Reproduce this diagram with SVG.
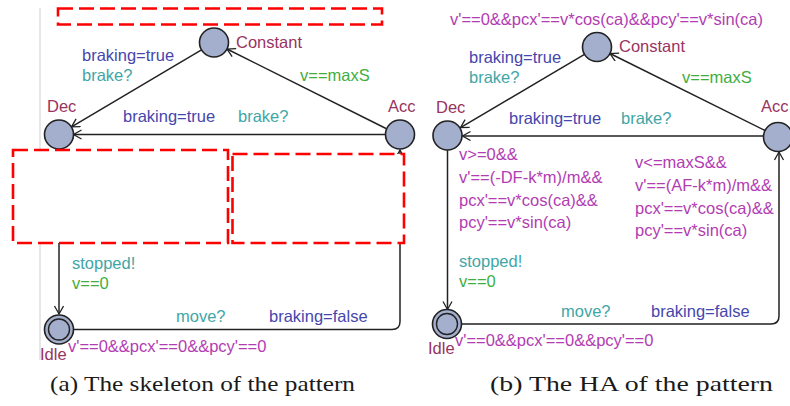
<svg xmlns="http://www.w3.org/2000/svg" width="790" height="406" viewBox="0 0 790 406">
<defs>
<marker id="arr" markerWidth="12" markerHeight="12" refX="9" refY="5" orient="auto" markerUnits="userSpaceOnUse">
<path d="M1,0.5 L9,5 L1,9.5" fill="none" stroke="#222" stroke-width="1.3"/>
</marker>
</defs>
<style>
text{font-family:"Liberation Sans",Arial,sans-serif;font-size:16.5px}
.loc{fill:#a4aecd;stroke:#222;stroke-width:1.6}
.in{fill:none;stroke:#222;stroke-width:1.4}
.nm{fill:#99335f}
.inv{fill:#b23cb2}
.gd{fill:#3fae3f}
.sy{fill:#3fa6a6}
.as{fill:#4646ad}
.e{fill:none;stroke:#222;stroke-width:1.5;marker-end:url(#arr)}
.mask{fill:#fff;stroke:#ff0000;stroke-width:2.6;stroke-dasharray:15 6}
.cap{font-family:"Liberation Serif","Times New Roman",serif;font-size:21px;fill:#1a1a1a}
</style>
<rect width="790" height="406" fill="#fff"/>
<line x1="40" y1="8" x2="40" y2="360" stroke="#cfcfcf" stroke-width="1"/>

<!-- Left panel: skeleton -->
<g id="edges-a">
<path class="e" d="M386,128.5 L227,49"/>
<path class="e" d="M201.5,49.9 L71.5,126.8"/>
<path class="e" d="M385.5,134.5 L73.5,134.5"/>
<path class="e" d="M59,149 L59,314"/>
<path class="e" d="M73.5,329.5 H392 Q400,329.5 400,321.5 V150"/>
</g>
<g id="a-constant"><circle class="loc" cx="214" cy="42.5" r="14.5"/><text class="nm" x="236" y="48">Constant</text></g>
<g id="a-dec"><circle class="loc" cx="59" cy="134.5" r="14.5"/><text class="nm" x="47" y="112">Dec</text></g>
<g id="a-acc"><circle class="loc" cx="400" cy="134.5" r="14.5"/><text class="nm" x="388" y="112">Acc</text></g>
<g id="a-idle"><circle class="loc" cx="59" cy="329.5" r="14.5"/><circle class="in" cx="59" cy="329.5" r="10.5"/><text class="nm" x="40" y="360">Idle</text><text class="inv" x="68" y="352">v'==0&amp;&amp;pcx'==0&amp;&amp;pcy'==0</text></g>
<g id="a-labels">
<text class="as" x="82" y="61">braking=true</text>
<text class="sy" x="82" y="81">brake?</text>
<text class="gd" x="300" y="81">v==maxS</text>
<text class="as" x="123" y="122">braking=true</text>
<text class="sy" x="238" y="122">brake?</text>
<text class="sy" x="72" y="269">stopped!</text>
<text class="gd" x="72" y="289">v==0</text>
<text class="sy" x="176" y="322">move?</text>
<text class="as" x="269" y="322">braking=false</text>
</g>
<g id="a-masks">
<rect class="mask" x="58" y="8.5" width="324" height="16"/>
<rect class="mask" x="13" y="150" width="215" height="93"/>
<rect class="mask" x="232.5" y="154" width="171.5" height="89"/>
</g>

<!-- Right panel: HA -->
<g id="edges-b">
<path class="e" d="M765,130.5 L610,53.5"/>
<path class="e" d="M584.5,54.4 L460.5,127.6"/>
<path class="e" d="M763.5,136 L462.5,136"/>
<path class="e" d="M447.5,150 L447.5,309.5"/>
<path class="e" d="M462,324 H771 Q779,324 779,316 V152"/>
</g>
<g id="b-constant"><circle class="loc" cx="597" cy="47" r="14.5"/><text class="nm" x="619" y="52">Constant</text><text class="inv" x="450" y="25">v'==0&amp;&amp;pcx'==v*cos(ca)&amp;&amp;pcy'==v*sin(ca)</text></g>
<g id="b-dec"><circle class="loc" cx="447.5" cy="135.5" r="14.5"/><text class="nm" x="436" y="113">Dec</text>
<text class="inv" x="459" y="160">v&gt;=0&amp;&amp;</text>
<text class="inv" x="459" y="183">v'==(-DF-k*m)/m&amp;&amp;</text>
<text class="inv" x="459" y="205.5">pcx'==v*cos(ca)&amp;&amp;</text>
<text class="inv" x="459" y="228">pcy'==v*sin(ca)</text>
</g>
<g id="b-acc"><circle class="loc" cx="778" cy="137" r="14.5"/><text class="nm" x="761" y="112">Acc</text>
<text class="inv" x="635" y="168">v&lt;=maxS&amp;&amp;</text>
<text class="inv" x="635" y="191">v'==(AF-k*m)/m&amp;&amp;</text>
<text class="inv" x="635" y="213.5">pcx'==v*cos(ca)&amp;&amp;</text>
<text class="inv" x="635" y="236">pcy'==v*sin(ca)</text>
</g>
<g id="b-idle"><circle class="loc" cx="447" cy="324" r="14.5"/><circle class="in" cx="447" cy="324" r="10.5"/><text class="nm" x="428" y="354">Idle</text><text class="inv" x="455" y="346">v'==0&amp;&amp;pcx'==0&amp;&amp;pcy'==0</text></g>
<g id="b-labels">
<text class="as" x="469" y="63">braking=true</text>
<text class="sy" x="469" y="83">brake?</text>
<text class="gd" x="682" y="83">v==maxS</text>
<text class="as" x="509" y="124">braking=true</text>
<text class="sy" x="621" y="124">brake?</text>
<text class="sy" x="459" y="267">stopped!</text>
<text class="gd" x="459" y="287">v==0</text>
<text class="sy" x="561" y="317">move?</text>
<text class="as" x="651" y="317">braking=false</text>
</g>

<g id="captions">
<text class="cap" x="50" y="391" textLength="305" lengthAdjust="spacingAndGlyphs">(a) The skeleton of the pattern</text>
<text class="cap" x="490" y="391" textLength="283" lengthAdjust="spacingAndGlyphs">(b) The HA of the pattern</text>
</g>
</svg>
